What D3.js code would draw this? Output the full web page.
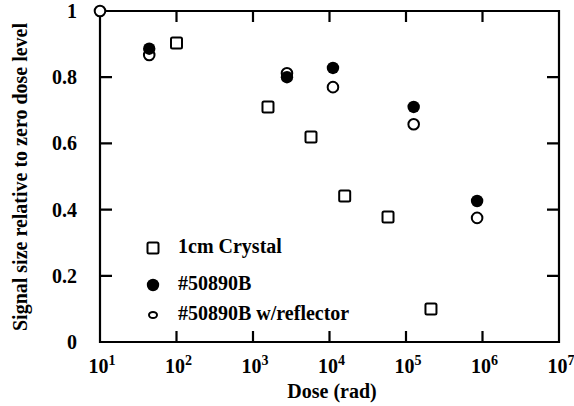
<!DOCTYPE html>
<html><head><meta charset="utf-8">
<script src="https://cdn.jsdelivr.net/npm/d3@7"></script>
<style>body{margin:0;background:#fff}svg{display:block}text{fill:#000}</style>
</head><body><svg id="c" width="574" height="406"></svg>
<script>
const crystalDose = [100, 1570, 5730, 15800, 58200, 212000];
const crystalSignal = [0.903, 0.71, 0.619, 0.441, 0.378, 0.10];
const bDose = [44, 2780, 11100, 126000, 850000];
const bSignal = [0.886, 0.80, 0.828, 0.71, 0.426];
const reflDose = [10, 44, 2780, 11100, 126000, 850000];
const reflSignal = [1.0, 0.867, 0.812, 0.77, 0.658, 0.375];
const xTickExps = [1, 2, 3, 4, 5, 6, 7];
const yTicks = [0, 0.2, 0.4, 0.6, 0.8, 1];
const yTickLabels = ["0", "0.2", "0.4", "0.6", "0.8", "1"];
const legendLabels = ["1cm Crystal", "#50890B", "#50890B w/reflector"];

const svg = d3.select("#c");
const font = "'Liberation Serif','DejaVu Serif',serif";
const L = 100, R = 559, T = 11, B = 342;
const x = d3.scaleLog().domain([10, 1e7]).range([L, R]);
const y = d3.scaleLinear().domain([0, 1]).range([B, T]);

// frame + inward ticks as one path
const xt = xTickExps.map(e => Math.pow(10, e));
const p = d3.path();
p.rect(L, T, R - L, B - T);
xt.forEach(v => {
  p.moveTo(x(v), B); p.lineTo(x(v), B - 11);
  p.moveTo(x(v), T); p.lineTo(x(v), T + 11);
});
yTicks.forEach(v => {
  p.moveTo(L, y(v)); p.lineTo(L + 12, y(v));
  p.moveTo(R, y(v)); p.lineTo(R - 12, y(v));
});
svg.append("path").attr("d", p.toString()).attr("fill", "none")
  .attr("stroke", "#000").attr("stroke-width", 2.2);

// x tick labels 10^n
xTickExps.forEach(e => {
  const t = svg.append("text").attr("x", x(Math.pow(10, e)) + 2).attr("y", 373)
    .attr("text-anchor", "middle").attr("font-family", font).attr("font-weight", "bold")
    .attr("font-size", 20);
  t.append("tspan").text("10");
  t.append("tspan").attr("dy", -8).attr("font-size", 14).text(e);
});

// y tick labels
yTicks.forEach((v, i) => {
  svg.append("text").attr("x", 77).attr("y", y(v) + 7).attr("text-anchor", "end")
    .attr("font-family", font).attr("font-weight", "bold").attr("font-size", 20)
    .text(yTickLabels[i]);
});

// axis titles
svg.append("text").attr("x", 332).attr("y", 398).attr("text-anchor", "middle")
  .attr("font-family", font).attr("font-weight", "bold").attr("font-size", 20).text("Dose (rad)");
svg.append("text").attr("transform", "translate(27,177) rotate(-90)").attr("text-anchor", "middle")
  .attr("font-family", font).attr("font-weight", "bold").attr("font-size", 20)
  .text("Signal size relative to zero dose level");

const plot = svg.append("g");
plot.selectAll("rect.sq").data(crystalDose.map((d, i) => [d, crystalSignal[i]])).join("rect")
  .attr("class", "sq").attr("x", d => x(d[0]) - 5.5).attr("y", d => y(d[1]) - 5.5)
  .attr("width", 11).attr("height", 11).attr("rx", 1.5)
  .attr("fill", "#fff").attr("stroke", "#000").attr("stroke-width", 2);
plot.selectAll("circle.op").data(reflDose.map((d, i) => [d, reflSignal[i]])).join("circle")
  .attr("class", "op").attr("cx", d => x(d[0])).attr("cy", d => y(d[1])).attr("r", 5.3)
  .attr("fill", "#fff").attr("stroke", "#000").attr("stroke-width", 2);
plot.selectAll("circle.fl").data(bDose.map((d, i) => [d, bSignal[i]])).join("circle")
  .attr("class", "fl").attr("cx", d => x(d[0])).attr("cy", d => y(d[1])).attr("r", 6.2)
  .attr("fill", "#000");

// legend
const lx = 153, ly0 = [248, 285, 315];
svg.append("rect").attr("x", lx - 5.5).attr("y", ly0[0] - 5.5).attr("width", 11).attr("height", 11)
  .attr("rx", 1.5).attr("fill", "#fff").attr("stroke", "#000").attr("stroke-width", 2);
svg.append("circle").attr("cx", lx).attr("cy", ly0[1]).attr("r", 6.2).attr("fill", "#000");
svg.append("ellipse").attr("cx", lx).attr("cy", ly0[2]).attr("rx", 4).attr("ry", 3)
  .attr("fill", "#fff").attr("stroke", "#000").attr("stroke-width", 2);
legendLabels.forEach((t, i) => {
  svg.append("text").attr("x", 178).attr("y", ly0[i] + 5).attr("font-family", font)
    .attr("font-weight", "bold").attr("font-size", 20).text(t);
});
</script></body></html>
